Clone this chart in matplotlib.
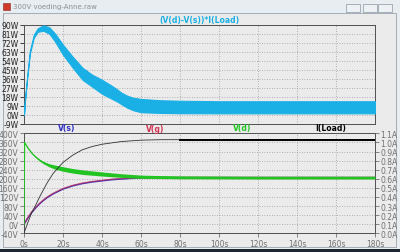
import numpy as np
import matplotlib
matplotlib.use('Agg')
import matplotlib.pyplot as plt
from matplotlib.patches import Rectangle

# power (V(d)-V(s))*I(Load), band upper / lower envelope in W
power_t = [0, 0.5, 1.5, 3, 5, 7, 10, 13, 16, 20, 25, 30, 35, 40, 45, 48, 50, 53, 56, 60, 70, 80, 100, 130, 180]
power_hi = [0, 15, 36, 64, 80, 86.5, 89.5, 87.5, 81, 70, 58, 47, 40, 35, 29, 25, 22, 19, 17, 15.8, 14.5, 14, 13.5, 13.5, 13.5]
power_lo = [0, 14, 34, 61, 77, 83, 84, 81, 73, 60, 47, 35, 28, 21, 16, 13, 10.5, 7, 4.5, 2.5, 1.8, 1.5, 1.4, 1.4, 1.4]

# V(d) in V, with half width of its ripple band
vd_t = [0, 0.3, 1, 2, 4, 6, 8, 10, 13, 16, 20, 25, 30, 40, 50, 60, 80, 120, 180]
vd = [0, 360, 350, 336, 313, 296, 282, 271, 259, 251, 243, 235, 229, 221, 214, 209, 206, 205, 205]
vd_ripple = [0, 0, 1, 1.5, 2, 3, 4, 5, 7, 9, 10, 10, 10, 9, 8, 7, 6, 6, 6]

# V(s) and V(g) in V
vsg_t = [0, 2, 4, 6, 8, 10, 12, 15, 20, 25, 30, 35, 40, 45, 50, 55, 60, 80, 180]
vs = [0, 28, 52, 72, 90, 105, 118, 134, 155, 169, 179, 186, 191, 196, 199, 202, 204, 205, 205]
vg = [0, 30, 54, 74, 92, 107, 120, 136, 157, 171, 181, 188, 193, 198, 201, 203, 205, 206, 206]

# I(Load) in A
il_t = [0, 2, 4, 6, 8, 10, 12, 15, 20, 25, 30, 35, 40, 45, 50, 60, 70, 80, 180]
il = [0, 0.12, 0.23, 0.31, 0.4, 0.48, 0.56, 0.66, 0.78, 0.86, 0.92, 0.955, 0.98, 0.995, 1.01, 1.025, 1.03, 1.03, 1.03]

x_ticks = list(range(0, 181, 20))
w_ticks = list(range(-9, 91, 9))
v_ticks = list(range(-40, 401, 40))
a_ticks = [i / 10 for i in range(0, 12)]

cyan = '#1ab0e6'
green = '#22c422'
blue = '#3030c0'
red = '#d03050'
grid_kw = dict(color='#9a9a9a', linestyle=(0, (1, 2)), linewidth=0.6)
fs = 5.5

fig = plt.figure(figsize=(4, 2.53), dpi=100, facecolor='#e8edf2')

# window pane and decorations
fig.patches.append(Rectangle((3 / 400, 5 / 253), 393 / 400, 234 / 253, transform=fig.transFigure,
                             facecolor='#ebebeb', edgecolor='#9aa4ae', linewidth=0.6, zorder=-10))
fig.patches.append(Rectangle((0, 0), 1, 3.5 / 253, transform=fig.transFigure,
                             facecolor='#1e2835', edgecolor='none', zorder=-10))
fig.patches.append(Rectangle((3 / 400, 242 / 253), 7 / 400, 7 / 253, transform=fig.transFigure,
                             facecolor='#d23a2a', edgecolor='#7a2a20', linewidth=0.4, zorder=-10))
for bx in [346, 363, 378]:
    fig.patches.append(Rectangle((bx / 400, 240 / 253), 14 / 400, 8 / 253, transform=fig.transFigure,
                                 facecolor='#eef1f4', edgecolor='#8a96a4', linewidth=0.5, zorder=-10))
fig.text(13 / 400, 246 / 253, '300V voeding-Anne.raw', fontsize=5, color='#8a8f96', va='center')

# top panel: power
ax1 = fig.add_axes([0.06, 0.507, 0.8775, 0.391])
ax1.set_facecolor('#ebebeb')
ax1.fill_between(power_t, power_lo, power_hi, color=cyan, linewidth=0.8, edgecolor=cyan, zorder=3)
ax1.set_xlim(0, 180)
ax1.set_ylim(-9, 90)
ax1.set_xticks(x_ticks)
ax1.set_xticklabels([])
ax1.set_yticks(w_ticks)
ax1.set_yticklabels([f'{w}W' for w in w_ticks])
ax1.tick_params(axis='y', labelsize=fs, length=3, width=0.6, pad=1, colors='#202020')
ax1.tick_params(axis='x', length=0)
ax1.grid(True, **grid_kw)
for s in ax1.spines.values():
    s.set_color('#505050')
    s.set_linewidth(0.7)
ax1.set_title('(V(d)-V(s))*I(Load)', fontsize=fs, color=cyan, fontweight='bold', pad=2)

# bottom panel: voltages and current
ax2 = fig.add_axes([0.06, 0.074, 0.8775, 0.395])
ax2.set_facecolor('#ebebeb')
vd_lo = np.array(vd) - np.array(vd_ripple)
vd_hi = np.array(vd) + np.array(vd_ripple)
ax2.fill_between(vd_t, vd_lo, vd_hi, color=green, linewidth=0, zorder=3)
ax2.plot(vd_t, vd, color=green, linewidth=0.9, zorder=3)
ax2.plot(vsg_t, vs, color=blue, linewidth=1.1, zorder=2)
ax2.plot(vsg_t, vg, color=red, linewidth=1.0, alpha=0.65, zorder=2)
ax2.set_xlim(0, 180)
ax2.set_ylim(-40, 400)
ax2.set_xticks(x_ticks)
ax2.set_xticklabels([f'{t}s' for t in x_ticks])
ax2.set_yticks(v_ticks)
ax2.set_yticklabels([f'{v}V' for v in v_ticks])
ax2.tick_params(labelsize=fs, length=3, width=0.6, pad=1, colors='#707070')
ax2.grid(True, **grid_kw)
for s in ax2.spines.values():
    s.set_color('#505050')
    s.set_linewidth(0.7)

ax3 = ax2.twinx()
ax3.plot(il_t, il, color='#303030', linewidth=0.6)
il_arr = np.array(il)
late = np.array(il_t) >= 80
ax3.plot(np.array(il_t)[late], il_arr[late], color='black', linewidth=1.4)
ax3.set_ylim(0, 1.1)
ax3.set_yticks(a_ticks)
ax3.set_yticklabels([f'{a:.1f}A' for a in a_ticks])
ax3.tick_params(labelsize=fs, length=3, width=0.6, pad=1, colors='#707070')
for s in ax3.spines.values():
    s.set_visible(False)

# trace labels above the bottom panel
for xp, name, c in [(67, 'V(s)', blue), (155, 'V(g)', red), (242, 'V(d)', green), (331, 'I(Load)', 'black')]:
    fig.text(xp / 400, (253 - 129) / 253, name, fontsize=fs, color=c, fontweight='bold',
             ha='center', va='center')

fig.savefig('out.png', dpi=100, facecolor=fig.get_facecolor())
